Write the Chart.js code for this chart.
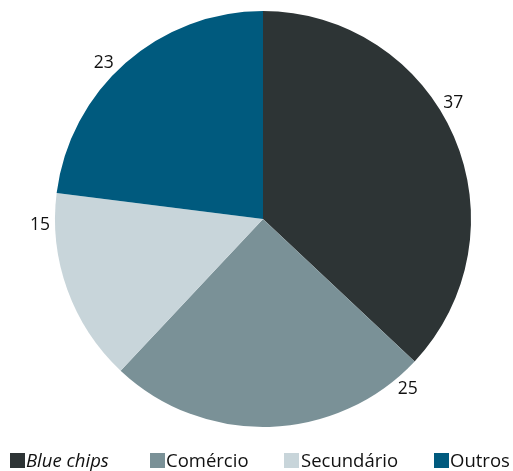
<!DOCTYPE html>
<html lang="pt">
<head>
<meta charset="utf-8">
<title>Composição</title>
<script src="https://cdn.jsdelivr.net/npm/chart.js@4/dist/chart.umd.min.js"></script>
<style>
  html, body { margin: 0; padding: 0; background: #fff; }
  #wrap { position: relative; width: 513px; height: 471px; }
</style>
</head>
<body>
<div id="wrap"><canvas id="pie" width="513" height="471"></canvas></div>
<script>
/* ---------- dados ---------- */
const categories = ['Blue chips', 'Comércio', 'Secundário', 'Outros'];
const shares     = [37, 25, 15, 23];
const colors     = ['#2d3435', '#7a9197', '#c8d5da', '#005a7e'];

// posição dos rótulos dentro de cada fatia (fração do arco) e distância fora da borda
const LABEL_FRAC = [0.44, 0.07, 0.84, 0.45];
const LABEL_GAP  = 15;

// legenda: x de cada item
const LEGEND_X = [10, 150, 284, 434];

const FONT = "'Open Sans', 'Noto Sans', sans-serif";

/* ---------- rótulos de valor fora das fatias ---------- */
const outerLabels = {
  id: 'outerLabels',
  afterDatasetsDraw(chart) {
    const { ctx } = chart;
    const meta = chart.getDatasetMeta(0);
    ctx.save();
    ctx.fillStyle = '#111';
    ctx.font = `17.5px ${FONT}`;
    ctx.textAlign = 'center';
    ctx.textBaseline = 'middle';
    meta.data.forEach((arc, i) => {
      const a = arc.startAngle + (arc.endAngle - arc.startAngle) * LABEL_FRAC[i];
      const r = arc.outerRadius + LABEL_GAP;
      ctx.fillText(String(shares[i]), arc.x + Math.cos(a) * r, arc.y + Math.sin(a) * r);
    });
    ctx.restore();
  }
};

/* ---------- legenda embaixo ---------- */
const bottomLegend = {
  id: 'bottomLegend',
  afterDraw(chart) {
    const { ctx } = chart;
    ctx.save();
    ctx.textBaseline = 'alphabetic';
    ctx.textAlign = 'left';
    categories.forEach((name, i) => {
      const x = LEGEND_X[i];
      ctx.fillStyle = colors[i];
      ctx.fillRect(x, 453, 15, 15);
      ctx.fillStyle = '#111';
      ctx.font = (i === 0 ? 'italic ' : '') + `18.5px ${FONT}`;
      ctx.fillText(name, x + 16 + (i === 2 ? 1 : 0), 467);
    });
    ctx.restore();
  }
};

new Chart(document.getElementById('pie'), {
  type: 'pie',
  data: {
    labels: categories,
    datasets: [{
      data: shares,
      backgroundColor: colors,
      borderWidth: 0,
    }]
  },
  options: {
    responsive: false,
    animation: false,
    layout: { padding: { left: 13, right: 0, top: 11, bottom: 44 } },
    plugins: {
      legend: { display: false },
      tooltip: { enabled: false },
    }
  },
  plugins: [outerLabels, bottomLegend]
});
</script>
</body>
</html>
